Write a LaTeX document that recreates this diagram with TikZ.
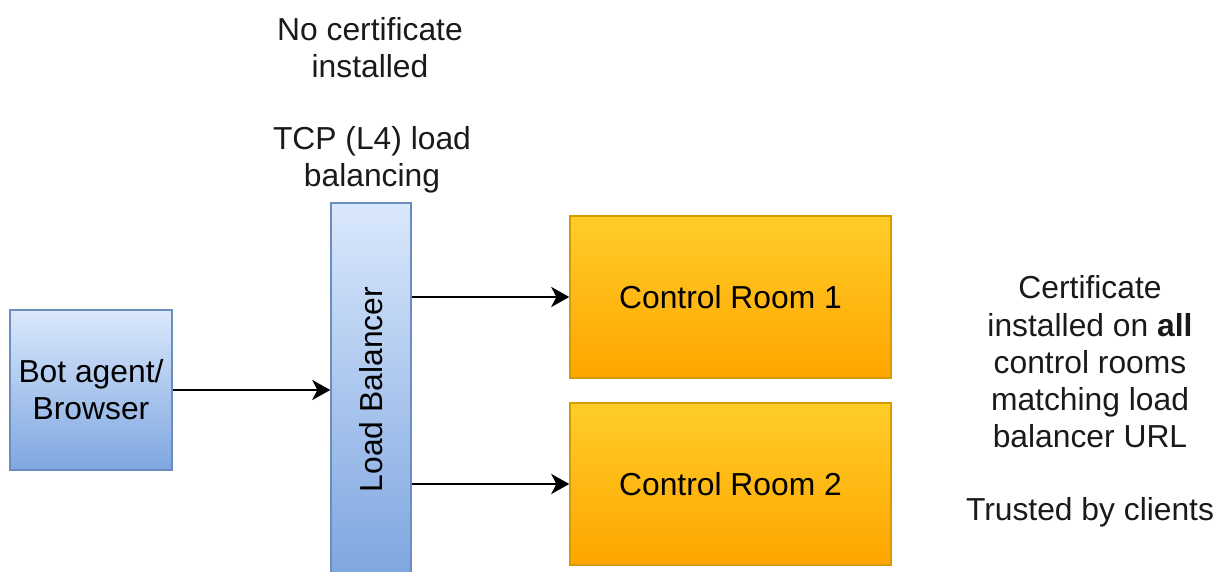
\documentclass[tikz,border=0pt]{standalone}
\usepackage{fontspec}
\setmainfont{Liberation Sans}
\usetikzlibrary{arrows.meta,positioning}
\definecolor{BlueFillTop}{HTML}{DAE8FC}
\definecolor{BlueFillBot}{HTML}{7EA6E0}
\definecolor{BlueLine}{HTML}{6C8EBF}
\definecolor{OrangeTop}{HTML}{FFCD28}
\definecolor{OrangeBot}{HTML}{FFA500}
\definecolor{OrangeLine}{HTML}{D79B00}
\definecolor{NoteText}{HTML}{1A1A1A}

\begin{document}
\begin{tikzpicture}[x=0.5pt,y=-0.5pt,
  bluebox/.style={draw=BlueLine,line width=0.7pt,top color=BlueFillTop,bottom color=BlueFillBot,
    inner sep=0pt,align=center,font=\fontsize{15.9}{18.6}\selectfont},
  roombox/.style={draw=OrangeLine,line width=0.7pt,top color=OrangeTop,bottom color=OrangeBot,
    minimum width=160.5pt,minimum height=81pt,inner sep=0pt,font=\fontsize{15.9}{18.6}\selectfont},
  note/.style={align=center,text=NoteText,inner sep=0pt,font=\fontsize{15.9}{18.6}\selectfont},
  link/.style={line width=1.2pt,-{Stealth[length=9pt,width=10pt,inset=2.5pt]}}]
\useasboundingbox (0,0) rectangle (1216,572);

% Client
\node[bluebox,minimum width=81pt,minimum height=80pt] (bot) at (91,390) {Bot agent/\\Browser};

% Load balancer
\node[bluebox,minimum width=40pt,minimum height=186.5pt] (lb) at (371,389.5) {};
\node[rotate=90,font=\fontsize{15.9}{18.6}\selectfont] (lblabel) at (lb.center) {Load Balancer};

% Control rooms
\node[roombox] (room1) at (730.5,297) {Control Room 1};
\node[roombox] (room2) at (730.5,484) {Control Room 2};

% Notes
\node[note] (nocert) at (370,48) {No certificate\\installed};
\node[note] (tcp) at (372,160) {TCP (L4) load\\balancing};
\node[note] (cert) at (1090,362) {Certificate\\installed on \textbf{all}\\control rooms\\matching load\\balancer URL};
\node[note] (trust) at (1090,512) {Trusted by clients};

% Arrows
\draw[link] (bot.east) -- (bot.east -| lb.west);
\draw[link] (lb.east |- room1.west) -- (room1.west);
\draw[link] (lb.east |- room2.west) -- (room2.west);
\end{tikzpicture}
\end{document}
